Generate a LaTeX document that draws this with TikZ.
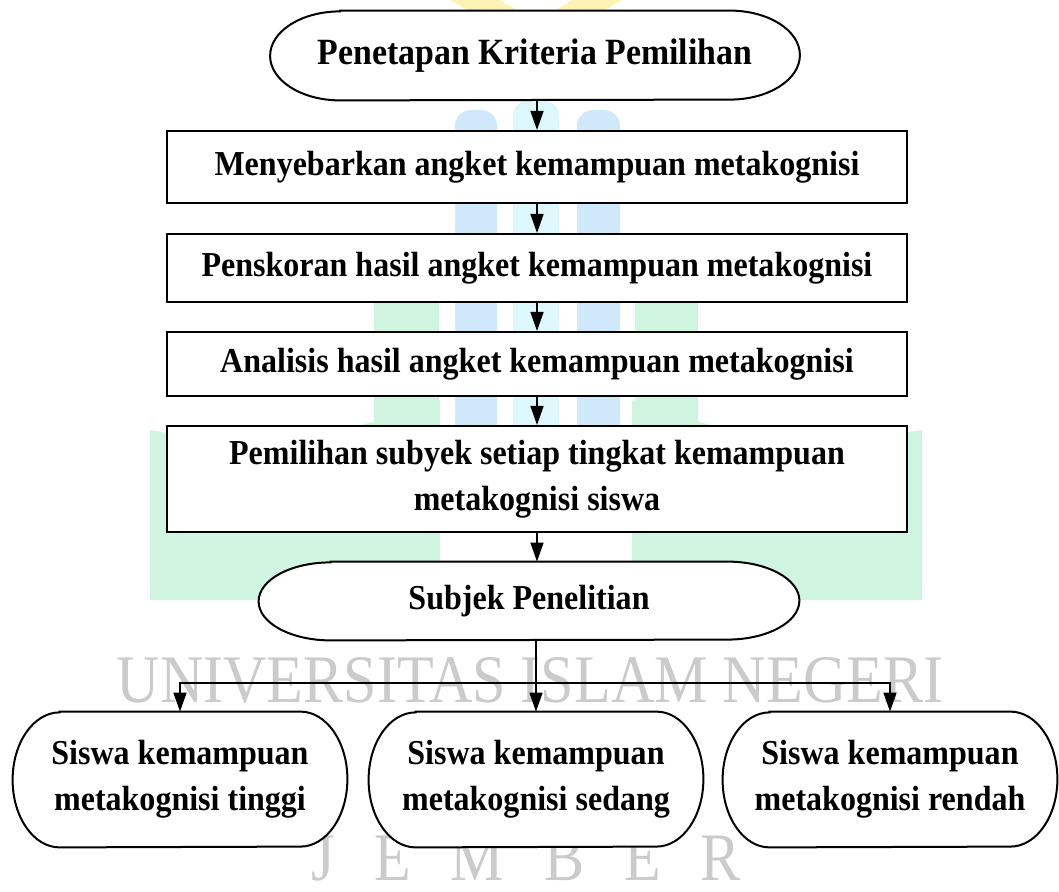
\documentclass[tikz,border=0pt]{standalone}
\usepackage{fontspec}
\setmainfont{Liberation Serif}
\newfontfamily\lblfont[FakeStretch=0.915]{Liberation Serif}
\usetikzlibrary{arrows.meta}
\pgfdeclarelayer{bg}
\pgfdeclarelayer{mid}
\pgfsetlayers{bg,mid,main}
\definecolor{wmyellow}{HTML}{FDF3B5}
\definecolor{wmblue}{HTML}{CFE8FA}
\definecolor{wmcyan}{HTML}{DDF8FD}
\definecolor{wmgreen}{HTML}{CFF5E1}
\definecolor{wmgray}{HTML}{CBCBCB}
\newcommand\drawpill[3]{%
  \draw[pillline] ([xshift=#2]#1.north west) -- ([xshift=-#2]#1.north east)
    arc[start angle=90,end angle=-90,x radius=#2,y radius=#3]
    -- ([xshift=#2]#1.south west)
    arc[start angle=270,end angle=90,x radius=#2,y radius=#3] -- cycle;}
\begin{document}
\begin{tikzpicture}[x=0.5pt,y=-0.5pt,
  lbl/.style={font=\lblfont\fontsize{17.5}{23}\selectfont\bfseries, align=center, inner sep=0pt},
  rectbox/.style={lbl, draw, line width=1pt, fill=white, minimum width=370pt},
  pillline/.style={line width=1pt, fill=white},
  arr/.style={line width=0.75pt, -{Triangle[width=6.5pt,length=9.5pt]}},
  wm/.style={font=\fontsize{34}{34}\selectfont, text=wmgray, inner sep=0pt, xscale=0.884}]
\useasboundingbox (0,0) rectangle (1059,892);

% ---- watermark ----
\begin{pgfonlayer}{bg}
  \fill[wmyellow] (450,0) -- (500,0) -- (536,22) -- (572,0) -- (622,0) -- (536,50) -- cycle;
  \fill[wmblue, rounded corners=8pt] (455,110) rectangle (497,440);
  \fill[wmcyan, rounded corners=8pt] (513,100) rectangle (559,440);
  \fill[wmblue, rounded corners=8pt] (577,110) rectangle (620,440);
  \fill[wmgreen] (374,430) -- (374,290) to[out=-60,in=160] (439,245) -- (439,430) -- cycle;
  \fill[wmgreen] (698,430) -- (698,290) to[out=-120,in=20] (635,245) -- (635,430) -- cycle;
  \fill[wmgreen] (150,430) to[out=-10,in=200] (440,400) -- (440,600) -- (150,600) -- cycle;
  \fill[wmgreen] (922,430) to[out=-170,in=-20] (632,400) -- (632,600) -- (922,600) -- cycle;
  \node[wm, anchor=base] (wm1) at (530,702) {UNIVERSITAS ISLAM NEGERI};
  \node[wm, anchor=base] (wm2) at (526,880) {J\hspace{22.5pt}E\hspace{22.5pt}M\hspace{22.5pt}B\hspace{22.5pt}E\hspace{22.5pt}R};
\end{pgfonlayer}

% ---- nodes ----
\node[lbl, font=\lblfont\fontsize{18.5}{23}\selectfont\bfseries, minimum width=264.5pt, minimum height=44.5pt] (top) at (535,55.5) {Penetapan Kriteria Pemilihan};
\node[rectbox, minimum height=36pt] (b1) at (537,167) {Menyebarkan angket kemampuan metakognisi};
\node[rectbox, minimum height=34pt] (b2) at (537,268) {Penskoran hasil angket kemampuan metakognisi};
\node[rectbox, minimum height=32pt] (b3) at (537,364) {Analisis hasil angket kemampuan metakognisi};
\node[rectbox, minimum height=53pt] (b4) at (537,479) {Pemilihan subyek setiap tingkat kemampuan\\metakognisi siswa};
\node[lbl, minimum width=270pt, minimum height=39pt] (subj) at (529,601) {Subjek Penelitian};
\node[lbl, minimum width=167pt, minimum height=67.5pt] (s1) at (180,779.5) {Siswa kemampuan\\metakognisi tinggi};
\node[lbl, minimum width=167pt, minimum height=67.5pt] (s2) at (536,779.5) {Siswa kemampuan\\metakognisi sedang};
\node[lbl, minimum width=167pt, minimum height=67.5pt] (s3) at (890,779.5) {Siswa kemampuan\\metakognisi rendah};

\begin{pgfonlayer}{mid}
  \drawpill{top}{35pt}{22.25pt}
  \drawpill{subj}{36pt}{19.5pt}
  \drawpill{s1}{23.5pt}{33.75pt}
  \drawpill{s2}{23.5pt}{33.75pt}
  \drawpill{s3}{23.5pt}{33.75pt}
\end{pgfonlayer}

% ---- connectors ----
\coordinate (j) at (536,683);
\draw[arr] (top.south -| b1.north) -- (b1.north);
\draw[arr] (b1.south) -- (b2.north);
\draw[arr] (b2.south) -- (b3.north);
\draw[arr] (b3.south) -- (b4.north);
\draw[arr] (b4.south) -- (b4.south |- subj.north);
\draw[line width=0.75pt] (j |- subj.south) -- (j);
\draw[arr] (j) -| (s1.north);
\draw[arr] (j) -- (s2.north);
\draw[arr] (j) -| (s3.north);
\end{tikzpicture}
\end{document}
